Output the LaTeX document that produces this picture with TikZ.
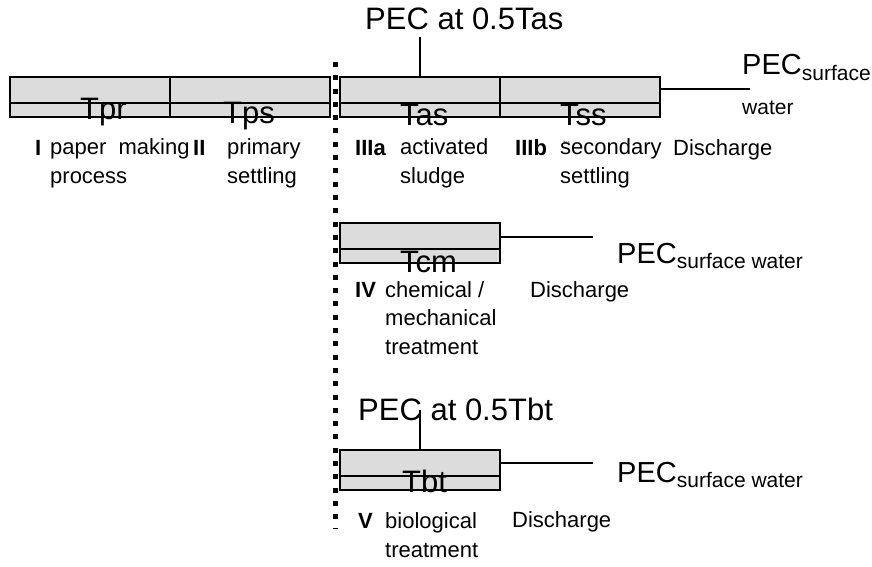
\documentclass[tikz,border=0pt]{standalone}
\usepackage{fontspec}
\setmainfont{Liberation Sans}
\usetikzlibrary{positioning}
\definecolor{boxgray}{RGB}{220,220,220}
\newcommand{\pecsmall}{\fontsize{21}{24}\selectfont}
\newcommand{\pecsub}[1]{{\pecsmall\raisebox{-5pt}{#1}}}

\begin{document}
\begin{tikzpicture}[
    x=1pt, y=-1pt,
    every node/.style={inner sep=0pt, anchor=base west},
    stage/.style={draw, line width=1.2pt, fill=boxgray, outer sep=0pt,
        minimum width=160pt, minimum height=40pt, anchor=north west},
    tname/.style={font=\fontsize{31}{36}\selectfont},
    pec/.style={font=\fontsize{29}{40}\selectfont, align=left},
    stepnum/.style={font=\fontsize{22}{28.5}\selectfont\bfseries},
    desc/.style={font=\fontsize{22}{28.5}\selectfont, align=left},
    divider/.style={line width=5pt, dash pattern=on 5pt off 8.3pt},
    link/.style={line width=1.2pt}
]
\useasboundingbox (0,0) rectangle (872,567);

% treatment stages
\node[stage] (prbox) at (10,77) {};
\node[stage] (psbox) at (170,77) {};
\node[stage] (asbox) at (340,77) {};
\node[stage] (ssbox) at (500,77) {};
\node[stage] (cmbox) at (340,223) {};
\node[stage] (btbox) at (340,450) {};
\foreach \b in {prbox,psbox,asbox,ssbox,cmbox,btbox}
    \draw[link] ([yshift=-26pt]\b.north west) -- ([yshift=-26pt]\b.north east);

% boundary of the plant
\coordinate (cuttop) at (335,62);
\coordinate (cutbot) at (335,528);
\draw[divider] (cuttop) -- (cutbot);

% residence times
\node[tname] (tpr) at (80,120) {Tpr};
\node[tname] (tps) at (223,124) {Tps};
\node[tname] (tas) at (400,125) {Tas};
\node[tname] (tss) at (560,125) {Tss};
\node[tname] (tcm) at (400,272) {Tcm};
\node[tname] (tbt) at (402,492) {Tbt};

% stage descriptions (multi-line nodes sit on their last line)
\node[stepnum] (n1) at (35,155) {I};
\node[desc] (d1) at (50,183) {paper\ \ making\\process};
\node[stepnum] (n2) at (193,155) {II};
\node[desc] (d2) at (227,183) {primary\\settling};
\node[stepnum] (n3a) at (355,155) {IIIa};
\node[desc] (d3a) at (400,183) {activated\\sludge};
\node[stepnum] (n3b) at (515,155) {IIIb};
\node[desc] (d3b) at (560,183) {secondary\\settling};
\node[font=\fontsize{4.5}{5}\selectfont] (tsstiny) at (563,144) {Tss};
\node[desc] (dis1) at (673,155) {Discharge};

\node[stepnum] (n4) at (355,297) {IV};
\node[desc] (d4) at (385,354) {chemical /\\mechanical\\treatment};
\node[desc] (dis2) at (530,297) {Discharge};

\node[stepnum] (n5) at (358,528) {V};
\node[desc] (d5) at (385,557) {biological\\treatment};
\node[desc] (dis3) at (512,527) {Discharge};

% concentrations
\node[tname] (pecas) at (365,30) {PEC at 0.5Tas};
\node[tname] (pecbt) at (358,420) {PEC at 0.5Tbt};
\node[pec] (pec1) at (742,115) {PEC\pecsub{surface}\\{\pecsmall water}};
\node[pec] (pec2) at (617,263) {PEC\pecsub{surface water}};
\node[pec] (pec3) at (617,482) {PEC\pecsub{surface water}};

% connectors
\coordinate (astop) at (420,37);
\coordinate (bttop) at (420,410);
\coordinate (ssout) at (750,89);
\coordinate (cmout) at (593,237);
\coordinate (btout) at (593,463);
\draw[link] (asbox.north) -- (astop);
\draw[link] (btbox.north) -- (bttop);
\draw[link] (ssbox.east |- ssout) -- (ssout);
\draw[link] (cmbox.east |- cmout) -- (cmout);
\draw[link] (btbox.east |- btout) -- (btout);
\end{tikzpicture}
\end{document}
